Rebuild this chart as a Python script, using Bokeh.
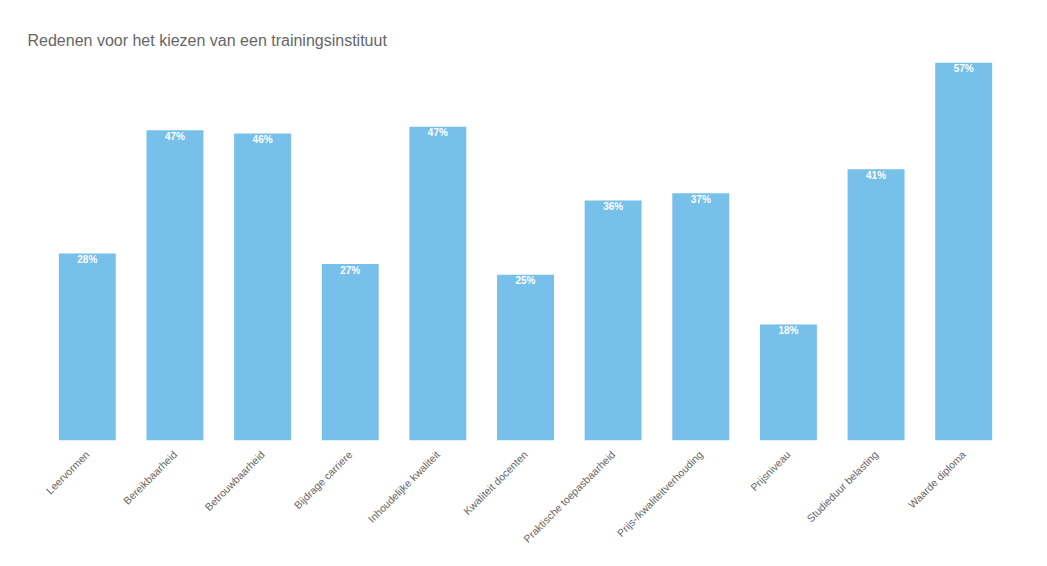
import math
from bokeh.plotting import figure
from bokeh.models import ColumnDataSource, Range1d
from bokeh.core.properties import value
from bokeh.embed import file_html
from bokeh.resources import INLINE

categories = ["Leervormen", "Bereikbaarheid", "Betrouwbaarheid", "Bijdrage carriere",
              "Inhoudelijke kwaliteit", "Kwaliteit docenten", "Praktische toepasbaarheid",
              "Prijs-/kwaliteitverhouding", "Prijsniveau", "Studieduur belasting", "Waarde diploma"]
values = [28.2, 46.8, 46.3, 26.6, 47.3, 25.0, 36.2, 37.3, 17.5, 40.9, 57.0]
labels = ["28%", "47%", "46%", "27%", "47%", "25%", "36%", "37%", "18%", "41%", "57%"]

src = ColumnDataSource(dict(cat=categories, val=values, lab=labels))

p = figure(x_range=categories, y_range=Range1d(0, 57.0), width=1039, height=558,
           output_backend="svg", toolbar_location=None,
           min_border_left=43, min_border_right=32, min_border_top=62, min_border_bottom=118,
           title="Redenen voor het kiezen van een trainingsinstituut")
p.title.text_font = "Liberation Sans"
p.title.text_font_size = "16px"
p.title.text_font_style = "normal"
p.title.text_color = "#666666"
p.title.offset = -16
p.title.standoff = 27

p.vbar(x="cat", top="val", width=0.65, source=src, color="#77C0EA", line_color=None)
p.text(x="cat", y="val", text="lab", source=src, y_offset=6, text_align="center",
       text_baseline="middle", text_color="white", text_font=value("Liberation Sans"),
       text_font_size="10px", text_font_style="bold")

p.yaxis.visible = False
p.xgrid.visible = False
p.ygrid.visible = False
p.outline_line_color = None
p.xaxis.axis_line_color = None
p.xaxis.major_tick_line_color = None
p.xaxis.minor_tick_line_color = None
p.xaxis.major_label_orientation = math.pi / 4
p.xaxis.major_label_text_font = "Liberation Sans"
p.xaxis.major_label_text_font_size = "10.5px"
p.xaxis.major_label_text_color = "#666666"
p.xaxis.major_label_standoff = 6

open("out.html", "w").write(file_html(p, INLINE))
